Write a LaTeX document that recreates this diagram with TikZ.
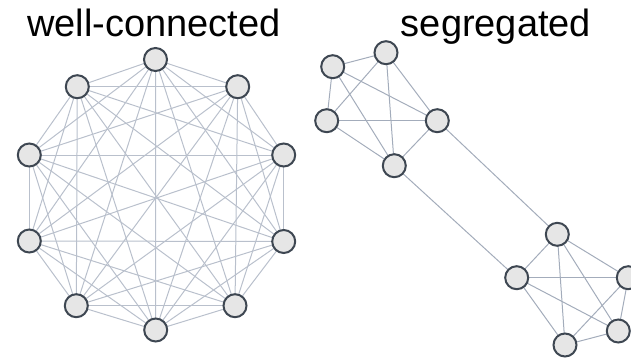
\documentclass[tikz,border=0pt]{standalone}
\usepackage{fontspec}
\setmainfont{Liberation Sans}
\definecolor{edgecol}{HTML}{B9C0CC}
\definecolor{edgedark}{HTML}{A3ACBB}
\definecolor{nodefill}{HTML}{E6E6E6}
\definecolor{nodeline}{HTML}{3E4752}
\begin{document}
\begin{tikzpicture}[x=1pt,y=-1pt,
  vertex/.style={circle,draw=nodeline,fill=nodefill,line width=2pt,minimum size=23pt,inner sep=0pt},
  link/.style={draw=edgecol,line width=1pt},
  linkd/.style={draw=edgedark,line width=1pt},
  title/.style={font=\fontsize{38}{40}\selectfont,text=black,anchor=base,inner sep=0pt}]
\useasboundingbox (0,0) rectangle (631,359);
\clip (0,0) rectangle (631,359);

% titles
\node[title] (t1) at (154,36) {well-connected};
\node[title] (t2) at (496,36) {segregated};

% left: ten nodes, every pair connected
\coordinate (n0) at (155.5,59.5);
\coordinate (n1) at (237.7,86.7);
\coordinate (n2) at (283.7,155);
\coordinate (n3) at (283.7,241.5);
\coordinate (n4) at (235,305.7);
\coordinate (n5) at (155.7,330);
\coordinate (n6) at (76.3,305.7);
\coordinate (n7) at (29.3,241);
\coordinate (n8) at (29.3,155);
\coordinate (n9) at (77.3,86.7);
\foreach \i in {0,...,9}{
  \foreach \j in {0,...,9}{
    \ifnum\i<\j \draw[link] (n\i) -- (n\j); \fi
  }
}
\foreach \i in {0,...,9}{ \node[vertex] (v\i) at (n\i) {}; }

% right: two five-node clusters joined by two links
\coordinate (a) at (332.7,66.7);
\coordinate (b) at (386,52.7);
\coordinate (c) at (326.7,120.7);
\coordinate (d) at (437.3,120.7);
\coordinate (e) at (394.3,165.7);
\coordinate (f) at (557.3,234.3);
\coordinate (g) at (516.7,277.7);
\coordinate (h) at (628.3,277.7);
\coordinate (i) at (618.3,331);
\coordinate (j) at (565,345);
\foreach \p/\q in {a/b,a/c,a/d,a/e,b/c,b/d,b/e,c/d,c/e,d/e,
                   f/g,f/h,f/i,f/j,g/h,g/i,g/j,h/i,h/j,i/j,
                   e/g,d/f}{
  \draw[linkd] (\p) -- (\q);
}
\foreach \p in {a,b,c,d,e,f,g,h,i,j}{ \node[vertex] (w\p) at (\p) {}; }
\end{tikzpicture}
\end{document}
